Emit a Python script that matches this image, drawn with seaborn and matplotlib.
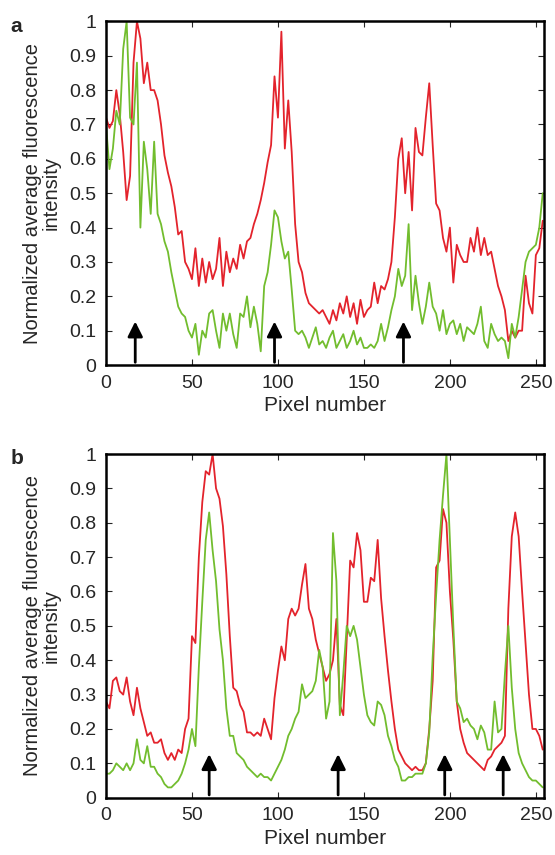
import numpy as np
import pandas as pd
import matplotlib
matplotlib.use("Agg")
import matplotlib.pyplot as plt
import seaborn as sns

# pixel positions (every 2nd pixel along the line profile)
pixels = list(range(0, 256, 2))

# panel a
a_red = [0.72, 0.69, 0.71, 0.80, 0.73, 0.62, 0.48, 0.55, 0.88, 1.00,
         0.95, 0.82, 0.88, 0.80, 0.80, 0.77, 0.70, 0.61, 0.56, 0.52,
         0.46, 0.38, 0.39, 0.30, 0.28, 0.25, 0.34, 0.23, 0.31, 0.24,
         0.30, 0.25, 0.28, 0.37, 0.23, 0.33, 0.27, 0.31, 0.28, 0.35,
         0.31, 0.36, 0.37, 0.41, 0.44, 0.48, 0.53, 0.59, 0.64, 0.84,
         0.72, 0.97, 0.63, 0.77, 0.62, 0.41, 0.30, 0.27, 0.21, 0.18,
         0.17, 0.16, 0.15, 0.16, 0.14, 0.12, 0.16, 0.13, 0.18, 0.15,
         0.20, 0.14, 0.18, 0.12, 0.19, 0.14, 0.16, 0.17, 0.24, 0.18,
         0.23, 0.22, 0.25, 0.30, 0.43, 0.60, 0.66, 0.50, 0.62, 0.45,
         0.69, 0.62, 0.61, 0.72, 0.82, 0.64, 0.47, 0.45, 0.37, 0.33,
         0.40, 0.24, 0.35, 0.32, 0.30, 0.30, 0.37, 0.33, 0.40, 0.32,
         0.37, 0.32, 0.33, 0.28, 0.23, 0.20, 0.16, 0.07, 0.10, 0.08,
         0.10, 0.10, 0.26, 0.18, 0.15, 0.32, 0.34, 0.42]
a_green = [0.70, 0.57, 0.63, 0.74, 0.70, 0.92, 1.00, 0.72, 0.70, 0.88,
           0.40, 0.65, 0.57, 0.44, 0.65, 0.44, 0.41, 0.36, 0.33, 0.27,
           0.22, 0.17, 0.15, 0.14, 0.10, 0.08, 0.12, 0.03, 0.10, 0.08,
           0.15, 0.16, 0.10, 0.05, 0.15, 0.10, 0.15, 0.09, 0.05, 0.15,
           0.14, 0.20, 0.11, 0.17, 0.12, 0.04, 0.23, 0.27, 0.35, 0.45,
           0.43, 0.36, 0.31, 0.33, 0.22, 0.10, 0.09, 0.10, 0.08, 0.05,
           0.08, 0.11, 0.06, 0.07, 0.05, 0.08, 0.10, 0.05, 0.07, 0.09,
           0.05, 0.07, 0.10, 0.06, 0.08, 0.05, 0.05, 0.06, 0.05, 0.07,
           0.12, 0.07, 0.11, 0.16, 0.20, 0.28, 0.23, 0.26, 0.41, 0.16,
           0.26, 0.18, 0.12, 0.17, 0.24, 0.17, 0.15, 0.10, 0.16, 0.09,
           0.12, 0.13, 0.09, 0.12, 0.07, 0.11, 0.10, 0.09, 0.12, 0.17,
           0.07, 0.05, 0.12, 0.09, 0.07, 0.08, 0.07, 0.02, 0.12, 0.08,
           0.14, 0.22, 0.30, 0.33, 0.34, 0.35, 0.40, 0.50]
a_arrows = [17, 98, 173]

# panel b
b_red = [0.28, 0.26, 0.34, 0.35, 0.31, 0.30, 0.35, 0.28, 0.24, 0.32,
         0.26, 0.22, 0.18, 0.19, 0.16, 0.16, 0.17, 0.13, 0.11, 0.13,
         0.11, 0.14, 0.13, 0.20, 0.23, 0.47, 0.45, 0.70, 0.86, 0.95,
         0.94, 1.00, 0.90, 0.87, 0.79, 0.65, 0.47, 0.32, 0.31, 0.27,
         0.25, 0.19, 0.19, 0.18, 0.19, 0.18, 0.23, 0.20, 0.17, 0.29,
         0.37, 0.44, 0.40, 0.52, 0.55, 0.53, 0.55, 0.62, 0.68, 0.55,
         0.52, 0.46, 0.42, 0.38, 0.34, 0.36, 0.40, 0.52, 0.27, 0.24,
         0.46, 0.69, 0.67, 0.77, 0.72, 0.57, 0.57, 0.64, 0.63, 0.75,
         0.58, 0.47, 0.37, 0.28, 0.20, 0.14, 0.12, 0.10, 0.09, 0.08,
         0.09, 0.08, 0.08, 0.10, 0.20, 0.34, 0.67, 0.69, 0.84, 0.80,
         0.60, 0.46, 0.28, 0.20, 0.16, 0.13, 0.12, 0.11, 0.10, 0.09,
         0.08, 0.11, 0.12, 0.14, 0.15, 0.16, 0.18, 0.55, 0.76, 0.83,
         0.76, 0.60, 0.45, 0.30, 0.20, 0.20, 0.18, 0.14]
b_green = [0.07, 0.07, 0.08, 0.10, 0.09, 0.08, 0.10, 0.08, 0.10, 0.17,
           0.11, 0.10, 0.15, 0.09, 0.09, 0.07, 0.06, 0.04, 0.03, 0.03,
           0.04, 0.05, 0.07, 0.10, 0.14, 0.20, 0.15, 0.38, 0.57, 0.75,
           0.83, 0.72, 0.63, 0.49, 0.40, 0.26, 0.18, 0.18, 0.13, 0.12,
           0.11, 0.09, 0.08, 0.07, 0.06, 0.07, 0.06, 0.06, 0.05, 0.07,
           0.09, 0.11, 0.14, 0.18, 0.20, 0.23, 0.25, 0.33, 0.29, 0.30,
           0.31, 0.34, 0.43, 0.38, 0.23, 0.28, 0.77, 0.63, 0.24, 0.36,
           0.50, 0.47, 0.50, 0.46, 0.38, 0.30, 0.24, 0.22, 0.21, 0.28,
           0.27, 0.24, 0.18, 0.15, 0.11, 0.09, 0.05, 0.05, 0.06, 0.06,
           0.07, 0.07, 0.07, 0.10, 0.19, 0.41, 0.59, 0.75, 0.88, 1.00,
           0.75, 0.50, 0.28, 0.26, 0.22, 0.23, 0.21, 0.20, 0.17, 0.21,
           0.19, 0.14, 0.14, 0.28, 0.19, 0.20, 0.36, 0.50, 0.32, 0.20,
           0.13, 0.10, 0.08, 0.06, 0.05, 0.05, 0.04, 0.03]
b_arrows = [60, 135, 197, 231]

RED = "#e3232c"
GREEN = "#72bd2e"

sns.set_style("ticks")
plt.rcParams['font.family'] = ['Liberation Sans', 'DejaVu Sans']

fig = plt.figure(figsize=(5.55, 8.55), dpi=100)
ax_a = fig.add_axes([0.191, 0.573, 0.790, 0.402])
ax_b = fig.add_axes([0.191, 0.067, 0.790, 0.402])

panels = [(ax_a, a_red, a_green, a_arrows, "a"),
          (ax_b, b_red, b_green, b_arrows, "b")]

for ax, red, green, arrows, letter in panels:
    df = pd.DataFrame({"pixel": pixels, "red": red, "green": green})
    sns.lineplot(data=df, x="pixel", y="red", color=RED, lw=1.3, ax=ax)
    sns.lineplot(data=df, x="pixel", y="green", color=GREEN, lw=1.3, ax=ax)
    for xa in arrows:
        ax.annotate("", xy=(xa, 0.135), xytext=(xa, 0.0),
                    arrowprops=dict(arrowstyle="-|>,head_length=0.9,head_width=0.45",
                                    color="black", lw=2))
    ax.set_xlim(0, 255)
    ax.set_ylim(0, 1)
    ax.set_xticks([0, 50, 100, 150, 200, 250])
    ax.set_yticks([0, 0.1, 0.2, 0.3, 0.4, 0.5, 0.6, 0.7, 0.8, 0.9, 1])
    ax.set_yticklabels(["0", "0.1", "0.2", "0.3", "0.4", "0.5", "0.6",
                        "0.7", "0.8", "0.9", "1"])
    ax.tick_params(direction="in", top=True, right=True, length=4,
                   labelsize=14, pad=7)
    for sp in ax.spines.values():
        sp.set_linewidth(1.8)
        sp.set_color("black")
    ax.set_xlabel("Pixel number", fontsize=15, labelpad=3)
    ax.set_ylabel("Normalized average fluorescence\nintensity",
                  fontsize=14.5, labelpad=6, linespacing=0.95)
    ax.text(-0.218, 0.97, letter, transform=ax.transAxes, fontsize=15,
            fontweight="bold", va="baseline", ha="left")

fig.savefig("out.png", dpi=100)
